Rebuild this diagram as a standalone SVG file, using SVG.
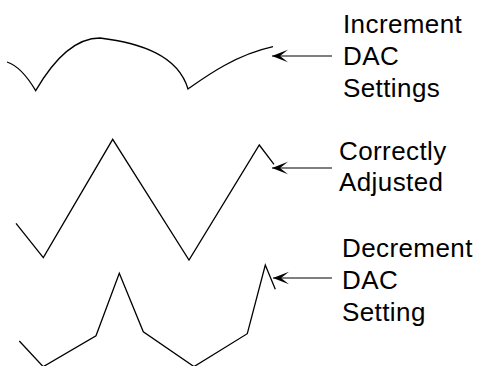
<svg xmlns="http://www.w3.org/2000/svg" width="478" height="366" viewBox="0 0 478 366">
<defs>
<style>
.wave{fill:none;stroke:#000;stroke-width:1.3;stroke-linejoin:miter}
.conn{fill:none;stroke:#000;stroke-width:1.1}
.lbl{font-family:"Liberation Sans",Arial,Helvetica,sans-serif;font-size:26px;letter-spacing:0.4px;fill:#000}
</style>
<marker id="ah" viewBox="0 0 16 14" refX="16" refY="7" markerWidth="16" markerHeight="14" markerUnits="userSpaceOnUse" orient="auto">
<path d="M16,7 L0,0.8 L8,7 L0,13.2 Z" fill="#000"/>
</marker>
</defs>
<rect width="478" height="366" fill="#fff"/>
<g id="wave-increment">
<path class="wave" d="M7,62 Q21.5,66.7 35.7,90.7 C50,66 72,38 100,38 C140,43 178,55 188,89 C205,77 235,55 273,46.7"/>
</g>
<g id="wave-correct">
<path class="wave" d="M16,223.3 L43.3,257.7 L112.7,139.3 L189,260 L259.3,145 L274,164.3"/>
</g>
<g id="wave-decrement">
<path class="wave" d="M19.3,341 L43.2,366.7 L96,335.7 L119.3,273.3 L143.3,331.7 L194,366.6 L247.3,333.7 L265.3,265 L275.3,289.3"/>
</g>
<g id="connectors">
<line class="conn" x1="332" y1="56" x2="272" y2="56" marker-end="url(#ah)"/>
<line class="conn" x1="332" y1="168" x2="272" y2="168" marker-end="url(#ah)"/>
<line class="conn" x1="332" y1="278" x2="273" y2="278" marker-end="url(#ah)"/>
</g>
<g id="label-increment">
<text class="lbl" x="343" y="33">Increment</text>
<text class="lbl" x="343" y="65">DAC</text>
<text class="lbl" x="343" y="97">Settings</text>
</g>
<g id="label-correct">
<text class="lbl" x="339" y="160">Correctly</text>
<text class="lbl" x="339" y="191">Adjusted</text>
</g>
<g id="label-decrement">
<text class="lbl" x="342" y="257">Decrement</text>
<text class="lbl" x="342" y="289">DAC</text>
<text class="lbl" x="342" y="321">Setting</text>
</g>
</svg>
